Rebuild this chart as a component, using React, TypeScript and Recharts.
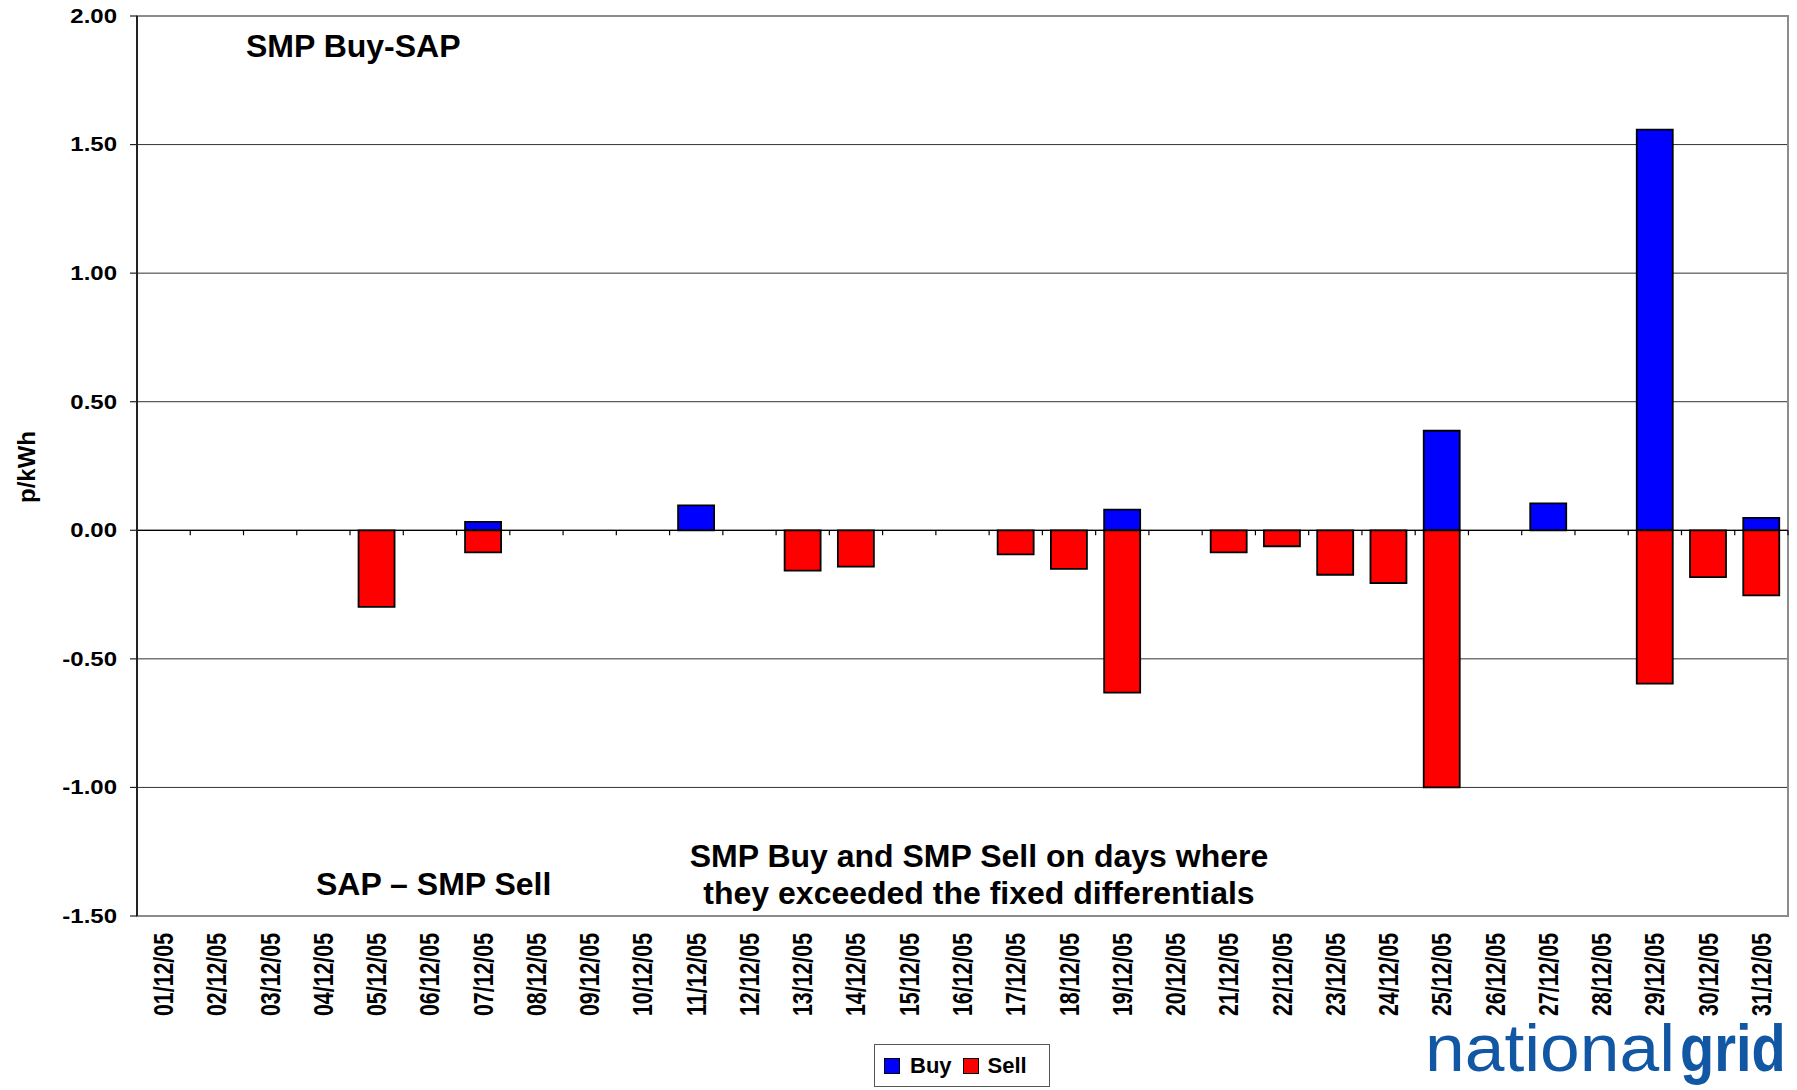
import React from 'react';
import {
  BarChart,
  Bar,
  XAxis,
  YAxis,
  CartesianGrid,
  ReferenceLine,
  ReferenceArea,
  Legend,
} from 'recharts';

const dates = [
  '01/12/05', '02/12/05', '03/12/05', '04/12/05', '05/12/05', '06/12/05', '07/12/05', '08/12/05',
  '09/12/05', '10/12/05', '11/12/05', '12/12/05', '13/12/05', '14/12/05', '15/12/05', '16/12/05',
  '17/12/05', '18/12/05', '19/12/05', '20/12/05', '21/12/05', '22/12/05', '23/12/05', '24/12/05',
  '25/12/05', '26/12/05', '27/12/05', '28/12/05', '29/12/05', '30/12/05', '31/12/05',
];

const buyValues = [
  0, 0, 0, 0, 0, 0, 0.033, 0, 0, 0, 0.097, 0, 0, 0, 0, 0,
  0, 0, 0.08, 0, 0, 0, 0, 0, 0.387, 0, 0.105, 0, 1.558, 0, 0.048,
];

const sellValues = [
  0, 0, 0, 0, -0.298, 0, -0.086, 0, 0, 0, 0, 0, -0.157, -0.141, 0, 0,
  -0.094, -0.15, -0.631, 0, -0.086, -0.062, -0.173, -0.205, -1.0, 0, 0, 0, -0.596, -0.182, -0.253,
];

const yTicks = [-1.5, -1, -0.5, 0, 0.5, 1, 1.5, 2];

const FONT = '"Liberation Sans", Arial, sans-serif';
const BLUE = '#0000ff';
const RED = '#ff0000';

const data = dates.map((d, i) => ({ date: d, buy: buyValues[i], sell: sellValues[i] }));

const XTick = (props: any) => {
  const { x, y, payload } = props;
  return (
    <text
      transform={`translate(${x},${y + 17}) rotate(-90)`}
      textAnchor="end"
      dominantBaseline="central"
      fontFamily={FONT}
      fontWeight="bold"
      fontSize={28}
      textLength={83}
      lengthAdjust="spacingAndGlyphs"
      fill="#000"
    >
      {payload.value}
    </text>
  );
};

const YTick = (props: any) => {
  const { x, y, payload } = props;
  return (
    <text
      transform={`translate(${x},${y}) scale(1.2,1)`}
      textAnchor="end"
      dominantBaseline="central"
      fontFamily={FONT}
      fontWeight="bold"
      fontSize={20}
      fill="#000"
    >
      {Number(payload.value).toFixed(2)}
    </text>
  );
};

// zero line with little category ticks hanging below it
const zeroLine = (props: any) => {
  const { x1, y1, x2 } = props;
  const step = (x2 - x1) / dates.length;
  const marks = [];
  for (let k = 0; k <= dates.length; k++) {
    const tx = x1 + k * step;
    marks.push(<line key={k} x1={tx} x2={tx} y1={y1} y2={y1 + 5} stroke="#000" strokeWidth={1.2} />);
  }
  return (
    <g>
      <line x1={x1} y1={y1} x2={x2} y2={y1} stroke="#000" strokeWidth={1.2} />
      {marks}
    </g>
  );
};

const LegendBox = () => (
  <div
    style={{
      width: 176,
      height: 43,
      boxSizing: 'border-box',
      border: '1px solid #555',
      background: '#fff',
      display: 'flex',
      alignItems: 'center',
      fontFamily: FONT,
      fontWeight: 'bold',
      fontSize: 22,
      paddingLeft: 9,
    }}
  >
    <span style={{ width: 14, height: 14, background: BLUE, border: '1.5px solid #000', display: 'inline-block' }} />
    <span style={{ marginLeft: 10 }}>Buy</span>
    <span style={{ width: 14, height: 14, background: RED, border: '1.5px solid #000', display: 'inline-block', marginLeft: 11 }} />
    <span style={{ marginLeft: 9 }}>Sell</span>
  </div>
);

export default function App() {
  return (
    <div style={{ position: 'absolute', left: 0, top: 0, width: 1797, height: 1090, overflow: 'hidden', background: '#fff' }}>
      <BarChart
        width={1797}
        height={1090}
        data={data}
        margin={{ top: 16, right: 9, left: 0, bottom: 0 }}
        stackOffset="sign"
        barCategoryGap="16%"
      >
        <CartesianGrid vertical={false} stroke="#333" strokeWidth={1} />
        <XAxis
          dataKey="date"
          interval={0}
          axisLine={false}
          tickLine={false}
          tickSize={0}
          tickMargin={0}
          height={174}
          tick={<XTick />}
        />
        <YAxis
          domain={[-1.5, 2]}
          ticks={yTicks}
          width={137}
          tickSize={7}
          tickMargin={13}
          axisLine={{ stroke: '#222', strokeWidth: 2 }}
          tickLine={{ stroke: '#222', strokeWidth: 1.2 }}
          tick={<YTick />}
        />
        <ReferenceArea y1={-1.5} y2={2} fill="none" stroke="#8c8c8c" strokeWidth={2} fillOpacity={0} />
        <Bar dataKey="buy" stackId="s" fill={BLUE} stroke="#000" strokeWidth={1.8} isAnimationActive={false} />
        <Bar dataKey="sell" stackId="s" fill={RED} stroke="#000" strokeWidth={1.8} isAnimationActive={false} />
        <ReferenceLine y={0} shape={zeroLine} />
        <Legend
          layout="horizontal"
          verticalAlign="middle"
          align="center"
          content={() => <LegendBox />}
          wrapperStyle={{ left: 874, top: 1044, width: 176, height: 43 }}
        />
      </BarChart>
      <svg
        width={1797}
        height={1090}
        style={{ position: 'absolute', left: 0, top: 0, pointerEvents: 'none' }}
        fontFamily={FONT}
        fontWeight="bold"
      >
        <text x={26} y={467} transform="rotate(-90, 26, 467)" textAnchor="middle" dominantBaseline="central" fontSize={24}>
          p/kWh
        </text>
        <text x={246} y={57} fontSize={32}>SMP Buy-SAP</text>
        <text x={316} y={895} fontSize={32}>SAP – SMP Sell</text>
        <text x={979} y={867} fontSize={32} textAnchor="middle">SMP Buy and SMP Sell on days where</text>
        <text x={979} y={904} fontSize={32} textAnchor="middle">they exceeded the fixed differentials</text>
        <text x={1425} y={1071} fill="#1157a3" fontSize={66} fontWeight="normal" textLength={250} lengthAdjust="spacingAndGlyphs">
          national
        </text>
        <text transform="translate(1680,1071) scale(1,1.18)" x={0} y={0} fill="#1157a3" fontSize={56} fontWeight="bold">
          grid
        </text>
      </svg>
    </div>
  );
}
